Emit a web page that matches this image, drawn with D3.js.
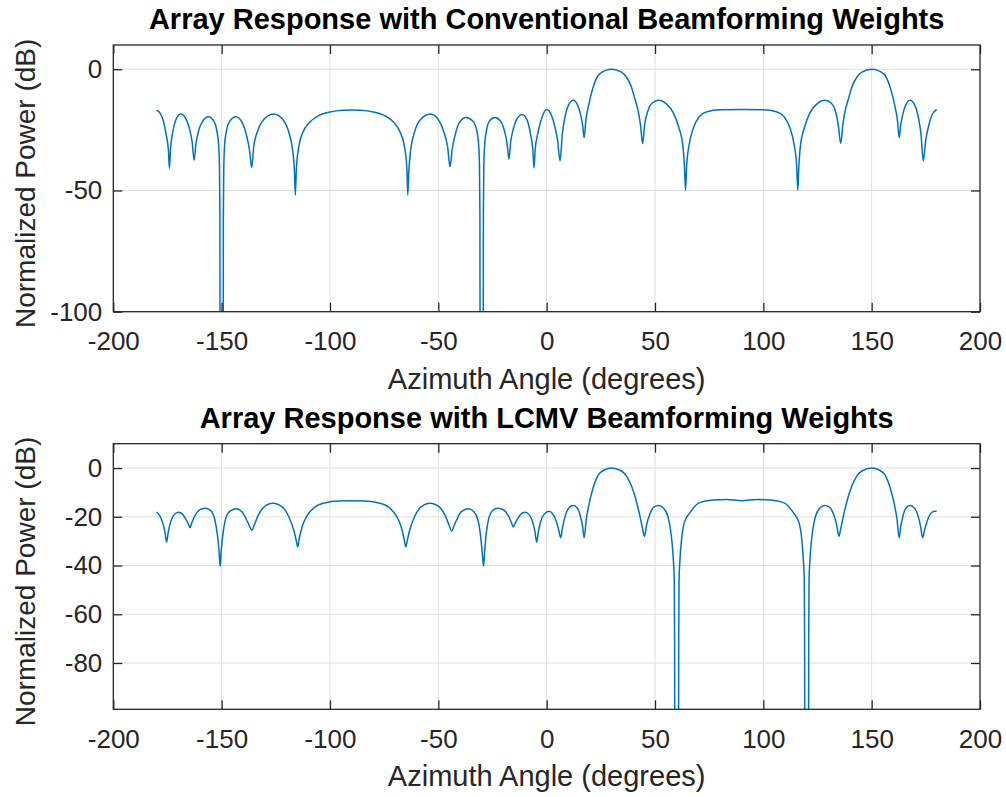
<!DOCTYPE html>
<html>
<head>
<meta charset="utf-8">
<script src="https://cdn.jsdelivr.net/npm/d3@7"></script>
<style>
  body { margin: 0; background: #fff; }
  svg { display: block; font-family: Arial, "Liberation Sans", Helvetica, sans-serif; }
</style>
</head>
<body>
<div id="chart"></div>
<script>
(function () {

var W = 1006, H = 797;

// tick labels
var xTicks = [-200, -150, -100, -50, 0, 50, 100, 150, 200];
var yTicksTop = [-100, -50, 0];
var yTicksBottom = [-80, -60, -40, -20, 0];

// conventional beamforming response, [azimuth deg, power dB]
var conventional = [
  [-180, -16.9], [-178.5, -18.0], [-177, -21], [-175.6, -27], [-174.6, -33], [-174.1, -40.9],
  [-173.6, -33], [-172.6, -26], [-171.2, -21], [-168.9, -18.5], [-166.5, -20.5], [-165, -24],
  [-163.6, -30], [-162.7, -37.5], [-161.9, -31], [-160.5, -25], [-158.8, -21.5], [-156.1, -19.6],
  [-153.5, -21.5], [-152.2, -25.5], [-151.4, -31], [-151.0, -40], [-150.8, -60], [-150.75, -100],
  [-150, -140], [-149.25, -100], [-149.2, -60], [-149.0, -40], [-148.6, -31], [-147.8, -25.5],
  [-146.3, -21.5], [-143.4, -19.6], [-140.5, -22], [-138.6, -27], [-137.2, -33], [-136.1, -40.5],
  [-135.2, -32], [-133.6, -26], [-131.2, -21.5], [-126.1, -18.5], [-121.5, -21], [-119.0, -26],
  [-117.3, -33], [-116.4, -42], [-116.0, -51.9], [-115.5, -41], [-114.4, -32], [-112.5, -26],
  [-109.5, -22], [-105, -19], [-100, -17.6], [-94, -16.9], [-90, -16.8], [-86, -16.9],
  [-80, -17.6], [-75, -19], [-70.5, -22], [-67.6, -26], [-65.6, -32], [-64.5, -41],
  [-64.1, -51.9], [-63.6, -42], [-62.7, -33], [-61.0, -26], [-58.5, -21], [-53.5, -18.5],
  [-49.5, -21.5], [-47.4, -26], [-45.7, -32], [-44.6, -40.2], [-43.6, -33], [-42.2, -27],
  [-40.3, -22], [-37.2, -19.9], [-34, -21.5], [-32.2, -25.5], [-31.4, -31], [-31.0, -40],
  [-30.8, -60], [-30.75, -100], [-30, -140], [-29.25, -100], [-29.2, -60], [-29.0, -40],
  [-28.6, -31], [-27.8, -25.5], [-26.5, -21.5], [-23.9, -19.9], [-21.2, -21.5], [-19.6, -25],
  [-18.2, -31], [-17.4, -37.1], [-16.6, -30], [-15.2, -24], [-13.7, -20.5], [-11.3, -18.7],
  [-9.0, -21], [-7.6, -26], [-6.4, -33], [-5.8, -40.7], [-5.3, -33], [-4.2, -27],
  [-2.4, -20.5], [0, -16.6], [2.2, -19], [3.6, -23], [5.0, -29], [6.2, -37.8],
  [7.2, -27], [8.4, -20], [10.0, -15], [12.3, -12.8], [14.4, -15], [15.6, -18.5],
  [16.6, -23], [17.3, -28.2], [18.1, -21], [19.2, -15.5], [21.5, -7.3], [24.6, -1.8],
  [30, 0], [34.5, -1.2], [37, -3.5], [39, -7], [40.8, -12.5], [42.2, -17],
  [43.3, -23], [44.3, -30.6], [45.2, -23], [46.8, -17], [48.6, -14], [51.6, -12.8],
  [55.5, -14.5], [58.5, -18], [61.0, -24], [62.8, -31], [63.6, -40], [64.1, -49.9],
  [64.6, -40], [65.8, -31], [67.8, -24], [70.5, -19.5], [74, -17.5], [80, -16.7],
  [90, -16.6], [100, -16.7], [106, -17.5], [109.5, -19.5], [112.2, -24], [114.2, -31],
  [115.4, -40], [115.9, -49.9], [116.4, -40], [117.2, -31], [119, -24], [121.5, -18],
  [124.5, -14.5], [128.4, -12.8], [131.4, -14], [133.2, -17], [134.6, -23], [135.7, -30.6],
  [136.7, -23], [137.8, -17], [139.2, -12.5], [141, -7], [143, -3.5], [145.5, -1.2],
  [150, 0], [155.4, -1.8], [158.5, -7.3], [160.8, -15.5], [161.9, -21], [162.7, -28.2],
  [163.4, -23], [164.4, -18.5], [165.6, -15], [167.7, -12.8], [170, -15], [171.6, -20],
  [172.8, -27], [173.8, -37.8], [175.0, -29], [176.4, -23], [177.8, -19], [180, -16.6]
];

// LCMV beamforming response, [azimuth deg, power dB]
var lcmv = [
  [-180, -18.1], [-178.6, -19.5], [-177.2, -22.5], [-176.2, -26], [-175.4, -30.4], [-174.6, -26],
  [-173.5, -22], [-172, -19.2], [-170, -18.1], [-168, -19], [-166.5, -21], [-165.3, -23],
  [-164.6, -24.5], [-163.8, -22.5], [-162.3, -19.5], [-160.2, -17.2], [-157.7, -16.5], [-155, -17.5],
  [-153.2, -21], [-152, -27], [-151.2, -34], [-150.7, -40.3], [-150.2, -34], [-149.4, -27],
  [-148.2, -21], [-146.3, -17.8], [-143.3, -16.7], [-140.5, -18], [-138.6, -21], [-137.1, -23.8],
  [-136.1, -25.6], [-135, -23.5], [-133.2, -19.5], [-130.5, -16], [-126.4, -14.4], [-122, -16],
  [-119, -20], [-116.7, -25.5], [-115.5, -30], [-114.9, -32.4], [-114.2, -29], [-112.8, -24],
  [-110.5, -19.5], [-107, -16], [-102, -14.2], [-96, -13.5], [-90, -13.4], [-84, -13.5],
  [-78, -14.2], [-73, -16], [-69.5, -19.5], [-67.2, -24], [-65.8, -29], [-65.0, -32.4],
  [-64.4, -30], [-63.2, -25.5], [-61, -20], [-58, -16], [-53.8, -14.4], [-49.5, -16],
  [-46.8, -19.5], [-45, -23.5], [-43.8, -25.9], [-42.8, -23.8], [-41.4, -21], [-39.5, -18],
  [-36.1, -16.7], [-33.7, -17.8], [-31.8, -21], [-30.6, -27], [-29.8, -34], [-29.1, -40.3],
  [-28.6, -34], [-27.9, -27], [-26.8, -21], [-25, -17.5], [-22.5, -16.5], [-19.8, -17.2],
  [-17.7, -19.5], [-16.2, -22.5], [-15.4, -24.2], [-14.7, -23], [-13.5, -21], [-12, -19],
  [-10.0, -18.1], [-8, -19.2], [-6.5, -22], [-5.4, -26], [-4.6, -30.4], [-3.8, -26],
  [-2.8, -22], [-1.2, -19], [1.2, -17.7], [3, -19], [4.5, -22], [5.6, -25.5],
  [6.5, -28.6], [7.4, -24], [8.8, -19], [10.5, -16.2], [12.3, -15.4], [14.2, -16.5],
  [15.5, -19.5], [16.6, -24], [17.3, -28.6], [18.3, -21], [19.5, -15], [21.5, -8],
  [24.6, -2], [30, 0], [34.5, -1.2], [37, -3.5], [39.2, -7.5], [41.2, -13],
  [43, -19.5], [44.3, -25], [45.1, -28], [46.2, -23], [47.8, -18.5], [49.5, -16],
  [51.6, -15.4], [54, -16.5], [56, -20], [57.7, -29], [58.5, -38], [58.9, -46],
  [59.05, -70], [59.1, -99], [60, -140], [60.9, -99], [60.95, -70], [61.1, -46],
  [61.5, -38], [62.3, -29], [63.5, -22.5], [66, -18.5], [70.4, -14.3], [76.9, -13.1],
  [83, -12.9], [90, -13.4], [97, -12.9], [103.1, -13.1], [109.6, -14.3], [114, -18.5],
  [116.5, -22.5], [117.7, -29], [118.5, -38], [118.9, -46], [119.05, -70], [119.1, -99],
  [120, -140], [120.9, -99], [120.95, -70], [121.1, -46], [121.5, -38], [122.3, -29],
  [124, -20], [126, -16.5], [128.4, -15.4], [130.5, -16],
  [132.2, -18.5], [133.8, -23], [134.9, -28], [135.7, -25], [137, -19.5], [138.8, -13],
  [140.8, -7.5], [143, -3.5], [145.5, -1.2], [150, 0], [155.4, -2], [158.5, -8],
  [160.5, -15], [161.7, -21], [162.7, -28.6], [163.4, -24], [164.5, -19.5], [165.8, -16.5],
  [167.7, -15.4], [169.5, -16.2], [171.2, -19], [172.6, -24], [173.5, -28.6], [174.4, -25.5],
  [175.5, -22], [177, -19], [178.8, -17.7], [180, -17.7]
];

var svg = d3.select("#chart").append("svg")
    .attr("width", W)
    .attr("height", H);

var axisColor = "#262626";
var gridColor = "#dfdfdf";
var lineColor = "#0072bd";

function panel(opts) {
  var left = 113.3, right = 980;
  var top = opts.top, bottom = opts.bottom;

  var x = d3.scaleLinear().domain([-200, 200]).range([left, right]);
  var y = d3.scaleLinear().domain(opts.yDomain).range([bottom, top]);

  var g = svg.append("g");

  // grid
  g.append("g").selectAll("line")
    .data(xTicks.slice(1, -1))
    .enter().append("line")
      .attr("x1", function (d) { return x(d); })
      .attr("x2", function (d) { return x(d); })
      .attr("y1", top).attr("y2", bottom)
      .style("stroke", gridColor).style("stroke-width", 1);

  g.append("g").selectAll("line")
    .data(opts.yTicks)
    .enter().append("line")
      .attr("x1", left).attr("x2", right)
      .attr("y1", function (d) { return y(d); })
      .attr("y2", function (d) { return y(d); })
      .style("stroke", gridColor).style("stroke-width", 1);

  // clip for the curve
  var clipId = "clip" + opts.id;
  svg.append("clipPath").attr("id", clipId)
    .append("rect")
      .attr("x", left).attr("y", top)
      .attr("width", right - left).attr("height", bottom - top);

  var line = d3.line()
      .x(function (d) { return x(d[0]); })
      .y(function (d) { return y(d[1]); })
      .curve(d3.curveMonotoneX);

  g.append("path")
      .datum(opts.data)
      .attr("clip-path", "url(#" + clipId + ")")
      .style("fill", "none")
      .style("stroke", lineColor)
      .style("stroke-width", 1.5)
      .attr("d", line);

  // axes, ticks inside on all four sides
  var tl = 9;
  var fmt = function (d) { return String(d); };
  g.append("g")
      .attr("transform", "translate(0," + bottom + ")")
      .call(d3.axisBottom(x).tickValues(xTicks).tickSize(-tl).tickPadding(20).tickFormat(fmt));
  g.append("g")
      .attr("transform", "translate(0," + top + ")")
      .call(d3.axisTop(x).tickValues(xTicks).tickSize(-tl).tickFormat(""));
  g.append("g")
      .attr("transform", "translate(" + left + ",0)")
      .call(d3.axisLeft(y).tickValues(opts.yTicks).tickSize(-tl).tickPadding(11).tickFormat(fmt));
  g.append("g")
      .attr("transform", "translate(" + right + ",0)")
      .call(d3.axisRight(y).tickValues(opts.yTicks).tickSize(-tl).tickFormat(""));

  g.selectAll(".domain").remove();
  g.selectAll(".tick line").style("stroke", axisColor).style("stroke-width", 1.3);
  g.selectAll(".tick text")
      .style("font-size", "26px")
      .style("fill", axisColor);

  // box
  g.append("rect")
      .attr("x", left).attr("y", top)
      .attr("width", right - left).attr("height", bottom - top)
      .style("fill", "none")
      .style("stroke", axisColor)
      .style("stroke-width", 1.3);

  // title and labels
  g.append("text")
      .attr("x", (left + right) / 2)
      .attr("y", top - 16)
      .attr("text-anchor", "middle")
      .style("font-weight", "bold")
      .style("font-size", "29px")
      .style("fill", "#000")
      .text(opts.title);

  g.append("text")
      .attr("x", (left + right) / 2)
      .attr("y", bottom + 77)
      .attr("text-anchor", "middle")
      .style("font-size", "29px")
      .style("fill", axisColor)
      .text("Azimuth Angle (degrees)");

  g.append("text")
      .attr("transform", "translate(35," + ((top + bottom) / 2 + 5) + ") rotate(-90)")
      .attr("text-anchor", "middle")
      .style("font-size", "28px")
      .style("fill", axisColor)
      .text("Normalized Power (dB)");
}

panel({
  id: 1, top: 45, bottom: 311.7, yDomain: [-100, 10], yTicks: yTicksTop,
  data: conventional,
  title: "Array Response with Conventional Beamforming Weights"
});

panel({
  id: 2, top: 443.7, bottom: 709.3, yDomain: [-99, 10], yTicks: yTicksBottom,
  data: lcmv,
  title: "Array Response with LCMV Beamforming Weights"
});

})();
</script>
</body>
</html>
